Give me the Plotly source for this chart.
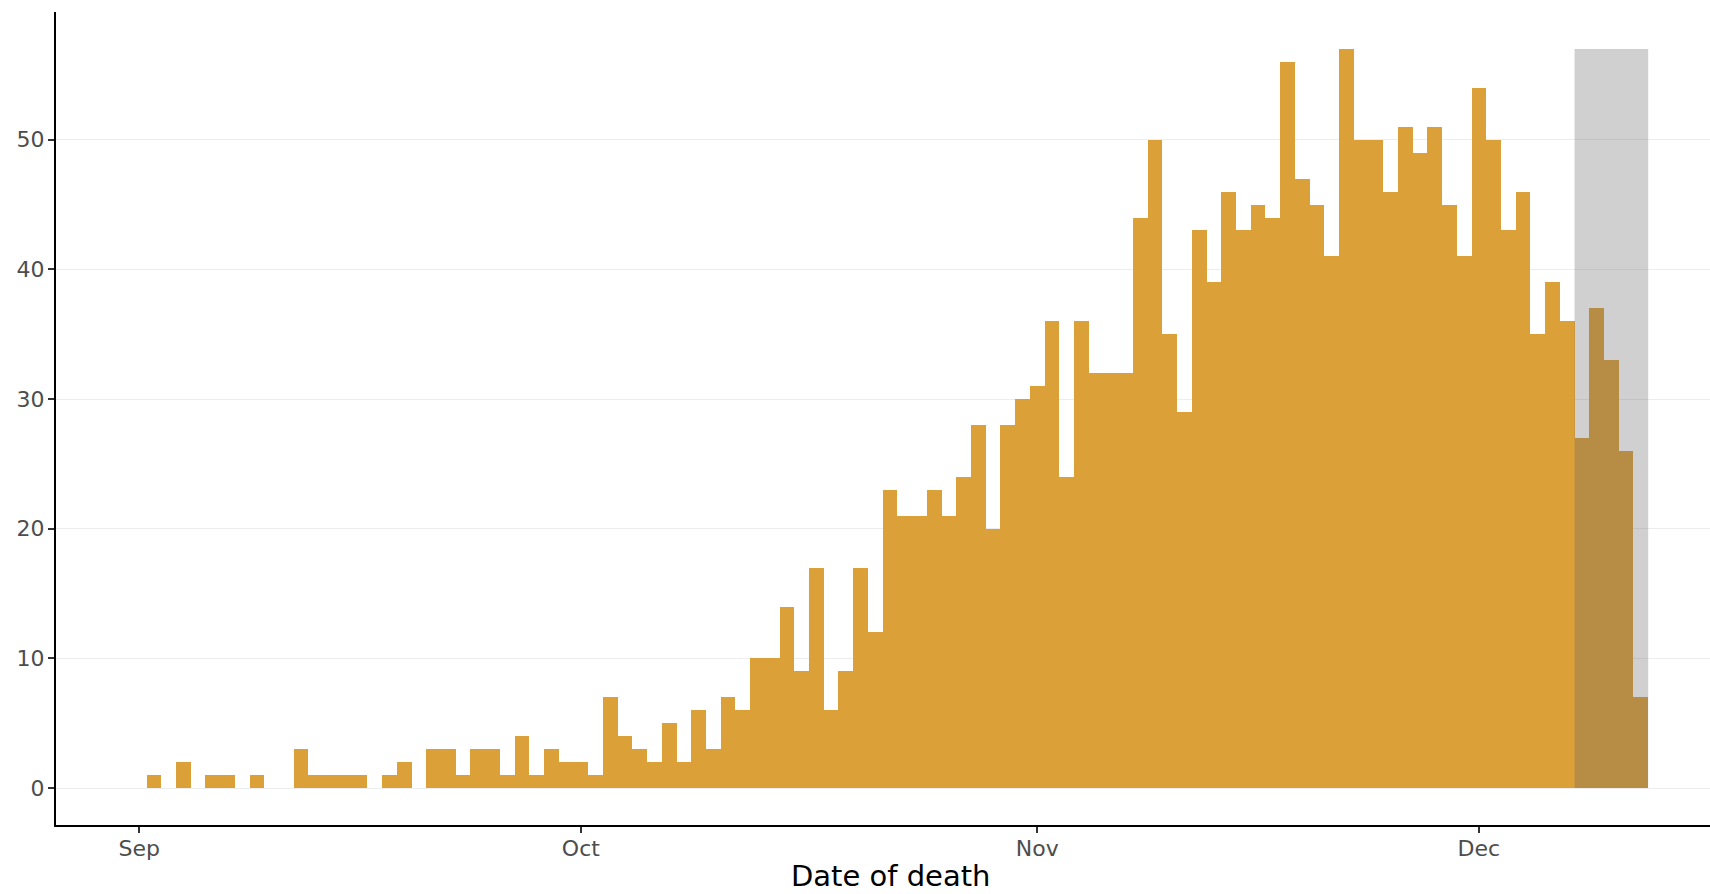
import pandas as pd
import plotly.graph_objects as go

# ---- data (daily deaths by date of death, 2020) ----
start_date = "2020-09-01"
sep_deaths = [0, 1, 0, 2, 0, 1, 1, 0, 1, 0, 0, 3, 1, 1, 1, 1, 0, 1, 2, 0,
              3, 3, 1, 3, 3, 1, 4, 1, 3, 2]
oct_deaths = [2, 1, 7, 4, 3, 2, 5, 2, 6, 3, 7, 6, 10, 10, 14, 9, 17, 6, 9, 17,
              12, 23, 21, 21, 23, 21, 24, 28, 20, 28, 30]
nov_deaths = [31, 36, 24, 36, 32, 32, 32, 44, 50, 35, 29, 43, 39, 46, 43, 45, 44, 56, 47, 45,
              41, 57, 50, 50, 46, 51, 49, 51, 45, 41]
dec_deaths = [54, 50, 43, 46, 35, 39, 36, 27, 37, 33, 26, 7]
incomplete_days = 5  # most recent days shaded as incomplete

month_ticks = ["2020-09-01", "2020-10-01", "2020-11-01", "2020-12-01"]
month_labels = ["Sep", "Oct", "Nov", "Dec"]
y_ticks = [0, 10, 20, 30, 40, 50]
x_title = "Date of death"

values = sep_deaths + oct_deaths + nov_deaths + dec_deaths
dates = pd.date_range(start_date, periods=len(values), freq="D")

# ---- figure ----
W, H = 1710, 894
ml, mr, mt, mb = 56, 0, 12, 69
day_ms = 86400000

bar_color = "#DBA038"
fig = go.Figure()
fig.add_trace(go.Bar(
    x=dates, y=values, width=day_ms,
    marker=dict(color=bar_color, line=dict(width=0)),
    hoverinfo="x+y", showlegend=False,
))

# shaded (incomplete) period
half = pd.Timedelta(hours=12)
fig.add_shape(
    type="rect", xref="x", yref="y",
    x0=dates[-incomplete_days] - half, x1=dates[-1] + half,
    y0=0, y1=max(values),
    fillcolor="rgba(100,100,100,0.3)", line=dict(width=0), layer="above",
)

x0 = pd.Timestamp(start_date) - pd.Timedelta(days=5.65)
x1 = pd.Timestamp(start_date) + pd.Timedelta(days=106.7)

fig.update_layout(
    width=W, height=H,
    margin=dict(l=ml, r=mr, t=mt, b=mb, pad=0),
    paper_bgcolor="white", plot_bgcolor="white",
    bargap=0,
    font=dict(family="DejaVu Sans", color="#4d4d4d"),
    xaxis=dict(
        type="date", range=[x0, x1],
        tickvals=month_ticks, ticktext=month_labels,
        showgrid=False, zeroline=False,
        showline=True, linecolor="black", linewidth=2,
        ticks="outside", ticklen=6, tickwidth=2, tickcolor="#333333",
        ticklabelstandoff=-3,
        tickfont=dict(size=22, color="#4d4d4d", family="DejaVu Sans"),
    ),
    yaxis=dict(
        range=[-2.85, 59.85],
        tickvals=y_ticks,
        showgrid=True, gridcolor="#ededed", gridwidth=1,
        zeroline=False,
        showline=True, linecolor="black", linewidth=2,
        ticks="outside", ticklen=6, tickwidth=2, tickcolor="#333333",
        ticklabelstandoff=-1,
        tickfont=dict(size=22, color="#4d4d4d", family="DejaVu Sans"),
    ),
)

plot_h = H - mt - mb
plot_w = W - ml - mr
fig.add_annotation(
    text=x_title, xref="paper", yref="paper",
    x=(890 - ml) / plot_w, y=-(876 - (H - mb)) / plot_h,
    xanchor="center", yanchor="middle", showarrow=False,
    font=dict(size=29, color="black", family="DejaVu Sans"),
)

fig.write_html(
    "out.html",
    config={"displayModeBar": False},
    post_script="document.body.style.margin='0';document.body.style.overflow='hidden';",
)
